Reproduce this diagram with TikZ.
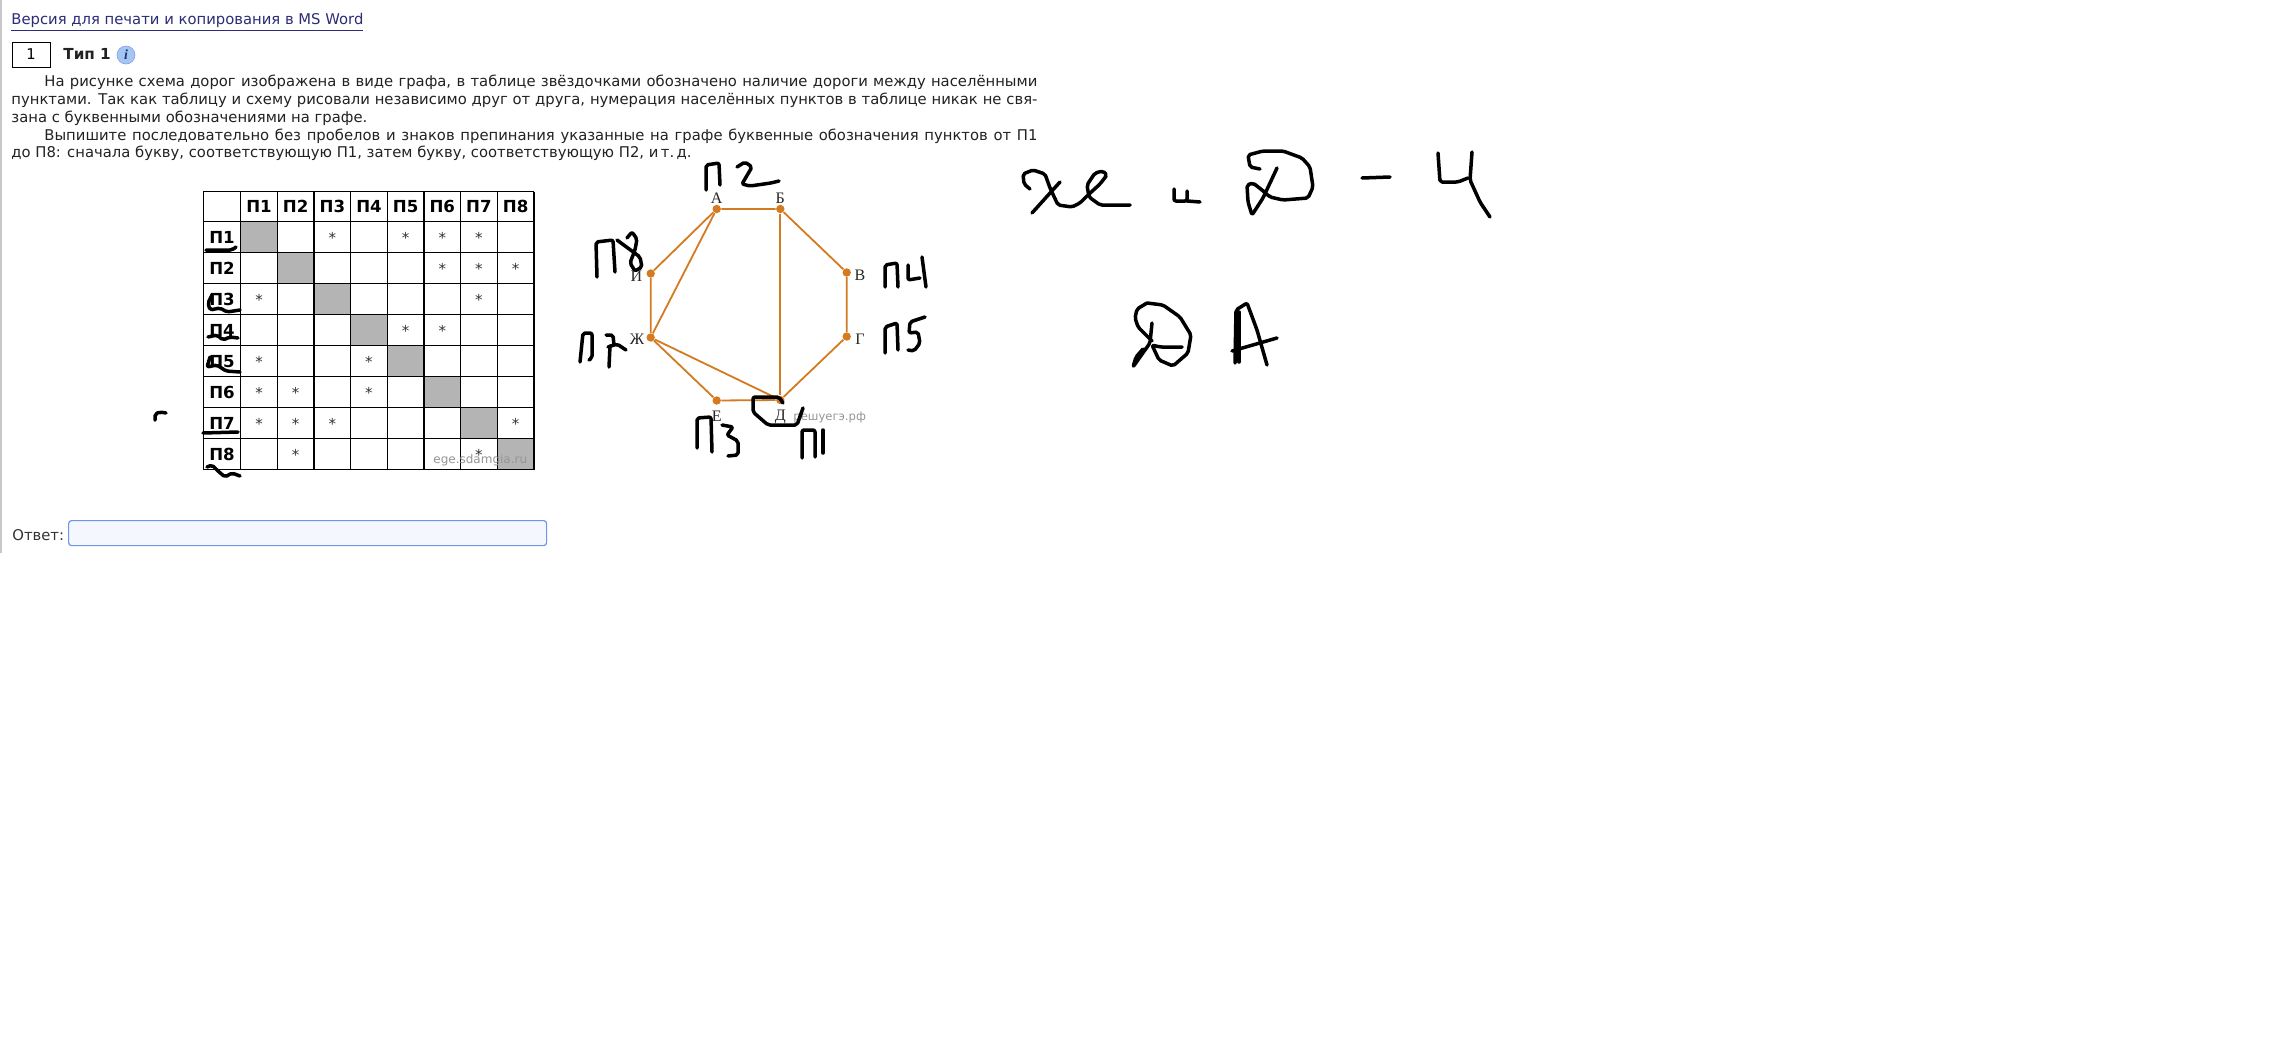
\documentclass[tikz,border=0pt]{standalone}
\usepackage{fontspec}
\setmainfont{DejaVu Sans}
\newfontfamily\serifx{Liberation Serif}
\definecolor{linkc}{RGB}{44,44,120}
\definecolor{txt}{RGB}{34,34,34}
\definecolor{org}{RGB}{212,122,32}
\definecolor{cellg}{RGB}{180,180,180}
\definecolor{wm}{RGB}{150,150,150}
\definecolor{boxb}{RGB}{110,150,235}
\definecolor{boxf}{RGB}{244,247,254}
\definecolor{pageb}{RGB}{200,200,200}
\definecolor{iconf}{RGB}{165,198,240}
\definecolor{icont}{RGB}{30,50,120}
\begin{document}
\begin{tikzpicture}[x=0.5pt,y=-0.5pt,
  body/.style={font=\fontsize{7.4pt}{9pt}\selectfont, text=txt, inner sep=0, anchor=base west},
  hand/.style={line width=1.75pt, line cap=round, line join=round, draw=black, rounded corners=1pt},
  vtx/.style={circle, fill=org, inner sep=0, minimum size=4.2pt},
  edge/.style={draw=org, line width=0.9pt},
  vlab/.style={font=\serifx\fontsize{8pt}{9pt}\selectfont, text=black!85, inner sep=0},
  hdr/.style={font=\bfseries\fontsize{8.3pt}{10pt}\selectfont, inner sep=0},
  star/.style={font=\fontsize{7.5pt}{9pt}\selectfont, inner sep=0, anchor=base, text=black!80},
  wmark/.style={text=wm, inner sep=0, anchor=west},
  grid/.style={line width=0.65pt, draw=black}
]
\useasboundingbox[fill=white] (0,0) rectangle (2281,1039);
\draw[pageb, line width=0.75pt] (0.75,0) -- (0.75,553);

% header
\node[body, text=linkc] (link) at (11,24.5) {\underline{Версия для печати и копирования в MS Word}};
\node[draw, line width=0.5pt, minimum width=19pt, minimum height=12.5pt, inner sep=0, font=\fontsize{7.4pt}{9pt}\selectfont] (num) at (31,54.5) {1};
\node[body, font=\bfseries\fontsize{7.6pt}{9pt}\selectfont] (tip) at (63,59.5) {Тип 1};
\node[circle, fill=iconf, draw=iconf!80!blue, line width=0.3pt, minimum size=9pt, inner sep=0, text=icont, font=\serifx\bfseries\itshape\fontsize{7pt}{8pt}\selectfont] (info) at (126,55) {i};

% paragraph
\node[body] (p1) at (44,86) {\hbox to 496.5pt{На рисунке схема дорог изображена в виде графа, в таблице звёздочками обозначено наличие дороги между населёнными}};
\node[body] (p2) at (11,104) {\hbox to 513pt{пунктами. Так как таблицу и схему рисовали независимо друг от друга, нумерация населённых пунктов в таблице никак не свя-}};
\node[body] (p3) at (11,122) {зана с буквенными обозначениями на графе.};
\node[body] (p4) at (44,140) {\hbox to 496.5pt{Выпишите последовательно без пробелов и знаков препинания указанные на графе буквенные обозначения пунктов от П1}};
\node[body] (p5) at (11,157) {до П8: сначала букву, соответствующую П1, затем букву, соответствующую П2, и\,т.\,д.};

% table
\foreach \i in {1,...,8}
  \fill[cellg] ({240.7+36.65*(\i-1)},{221.7+31*(\i-1)}) rectangle ({240.7+36.65*\i},{221.7+31*\i});
\draw[grid] (203.3,191.7) -- (203.3,469.7);
\foreach \k in {0,...,8}
  \draw[grid] ({240.7+36.65*\k},191.7) -- ({240.7+36.65*\k},469.7);
\draw[grid] (203.3,191.7) -- (533.9,191.7);
\foreach \k in {0,...,8}
  \draw[grid] (203.3,{221.7+31*\k}) -- (533.9,{221.7+31*\k});
\foreach \j in {1,...,8} {
  \node[hdr] (h\j) at ({240.7+36.65*(\j-0.5)},206.7) {П\j};
  \node[hdr] (r\j) at (222,{221.7+31*(\j-0.5)}) {П\j};
}
\foreach \i/\j in {1/3,1/5,1/6,1/7,2/6,2/7,2/8,3/1,3/7,4/5,4/6,5/1,5/4,6/1,6/2,6/4,7/1,7/2,7/3,7/8,8/2,8/7}
  \node[star] (s\i-\j) at ({240.7+36.65*(\j-0.5)},{221.7+31*(\i-0.5)+6.1}) {*};
\node[wmark, font=\fontsize{6pt}{7pt}\selectfont] (wm1) at (433,460) {ege.sdamgia.ru};

% graph
\node[vtx] (A) at (716.7,209) {};
\node[vtx] (B) at (780.3,209) {};
\node[vtx] (V) at (846.7,272.5) {};
\node[vtx] (G) at (846.7,336.5) {};
\node[vtx] (D) at (780.3,400) {};
\node[vtx] (E) at (716.7,400.5) {};
\node[vtx] (Zh) at (650.7,337.5) {};
\node[vtx] (I) at (650.7,273.5) {};
\draw[edge] (A) -- (B) -- (V) -- (G) -- (D) -- (E) -- (Zh) -- (I) -- (A);
\draw[edge] (A) -- (Zh);
\draw[edge] (Zh) -- (D);
\draw[edge] (B) -- (D);
\node[vlab] (lA) at (716.7,198.5) {А};
\node[vlab] (lB) at (780.3,198.5) {Б};
\node[vlab] (lV) at (860,275.5) {В};
\node[vlab] (lG) at (860,339.5) {Г};
\node[vlab] (lD) at (780.3,416.5) {Д};
\node[vlab] (lE) at (716.7,416.5) {Е};
\node[vlab] (lZh) at (637,339.5) {Ж};
\node[vlab] (lI) at (636.5,276.5) {И};
\node[wmark, font=\fontsize{5.8pt}{7pt}\selectfont] (wm2) at (793,417) {решуегэ.рф};

% answer
\node[body, text=black!80] (otv) at (12,540) {Ответ:};
\node[draw=boxb, fill=boxf, rounded corners=1.5pt, line width=0.6pt, minimum width=239pt, minimum height=12.5pt, inner sep=0, anchor=north west] (ans) at (68,520) {};

% handwriting on table
\draw[hand] (206,250) -- (232,250) -- (236,247);
\draw[hand] (212,295) -- (208,303) -- (210,310) -- (220,308) -- (227,312) -- (240,310);
\draw[hand] (208,337) -- (217,335) -- (223,340) -- (230,337) -- (238,338);
\draw[hand] (210,357) -- (207,367) -- (217,365) -- (226,371) -- (240,372);
\draw[hand] (203,433) -- (238,432);
\draw[hand] (207,467) -- (212,465) -- (218,471) -- (225,477) -- (232,473) -- (240,476);
\draw[hand] (155,420) -- (155,414) -- (160,412) -- (166,413);

% handwriting on graph
\draw[hand] (706,190) -- (706,165) -- (719,163) -- (720,185);
\draw[hand] (737,167) -- (745,162) -- (752,167) -- (742,184) -- (750,186) -- (771,183) -- (779,181);
\draw[hand] (597,277) -- (596,242) -- (613,240) -- (615,272);
\draw[hand] (617,240) -- (640,257) -- (642,267) -- (635,271) -- (630,263) -- (635,250) -- (637,239) -- (632,232) -- (627,238);
\draw[hand] (580,362) -- (583,333) -- (592,333) -- (592,358) -- (589,360);
\draw[hand] (606,335) -- (613,335) -- (614,345);
\draw[hand] (608,347) -- (617,344) -- (626,350);
\draw[hand] (610,346) -- (609,367);
\draw[hand] (885,287) -- (885,265) -- (897,263) -- (898,287);
\draw[hand] (908,265) -- (908,280) -- (920,278);
\draw[hand] (922,257) -- (926,287);
\draw[hand] (885,353) -- (885,327) -- (897,323) -- (898,350);
\draw[hand] (925,317) -- (910,322) -- (909,333) -- (918,332) -- (920,343) -- (914,351) -- (908,350);
\draw[hand] (697,448) -- (697,418) -- (711,417) -- (712,452);
\draw[hand] (722,425) -- (733,427) -- (727,435) -- (738,441) -- (738,455) -- (728,456);
\draw[hand] (783,403) -- (779,397) -- (753,397) -- (753,412) -- (768,425) -- (797,425) -- (803,408);
\draw[hand] (802,458) -- (802,430) -- (815,430) -- (815,457);
\draw[hand] (823,430) -- (823,453);

% handwriting on the right
\draw[hand] (1030,189) -- (1024,184) -- (1023,174) -- (1033,170) -- (1045,174) -- (1050,188) -- (1058,205) -- (1072,207) -- (1080,203) -- (1088,195) -- (1100,184) -- (1107,175) -- (1103,171) -- (1095,173) -- (1087,185) -- (1089,197) -- (1100,205) -- (1130,205);
\draw[hand] (1032,213) -- (1060,182);
\draw[hand] (1174,189) -- (1174,201) -- (1187,201) -- (1187,191);
\draw[hand] (1187,201) -- (1200,202);
\draw[hand] (1260,169) -- (1250,167) -- (1248,155) -- (1263,151) -- (1283,151) -- (1302,158) -- (1310,167) -- (1313,187) -- (1308,198) -- (1283,200) -- (1270,197) -- (1262,190) -- (1253,183) -- (1247,185) -- (1248,202) -- (1252,215) -- (1263,198) -- (1277,168);
\draw[hand] (1362,178) -- (1390,177);
\draw[hand] (1438,153) -- (1440,182) -- (1458,182) -- (1468,178);
\draw[hand] (1472,152) -- (1470,180) -- (1480,202) -- (1490,217);
\draw[hand] (1147,303) -- (1137,309) -- (1135,318) -- (1138,327) -- (1145,334) -- (1152,341);
\draw[hand] (1147,303) -- (1163,305) -- (1180,317) -- (1191,335) -- (1188,353) -- (1173,366) -- (1159,360) -- (1152,345) -- (1160,347) -- (1182,347);
\draw[hand] (1152,323) -- (1150,343) -- (1140,357) -- (1133,367) -- (1136,357) -- (1143,349);
\draw[hand] (1235,363) -- (1236,310) -- (1247,303) -- (1257,330) -- (1267,365);
\draw[hand] (1239,362) -- (1239,312);
\draw[hand] (1232,351) -- (1277,338);
\end{tikzpicture}
\end{document}
